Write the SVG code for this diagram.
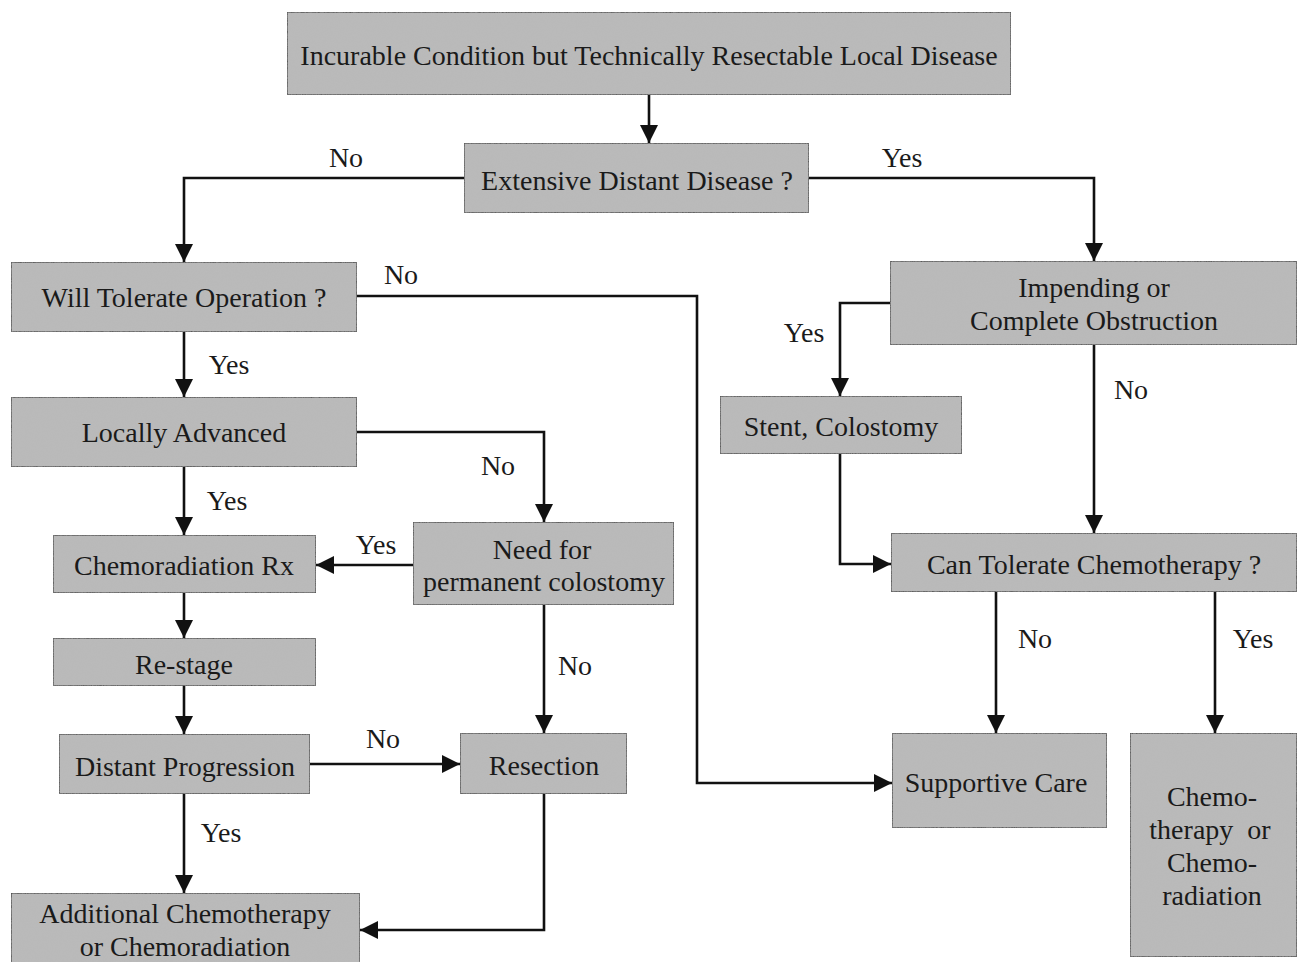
<svg xmlns="http://www.w3.org/2000/svg" width="1298" height="962" viewBox="0 0 1298 962">
<defs>
<marker id="ah" markerUnits="userSpaceOnUse" markerWidth="20" markerHeight="18" refX="18" refY="9" orient="auto">
<path d="M0,0 L18,9 L0,18 Z" fill="#111"/>
</marker>
<filter id="grain" x="0" y="0" width="100%" height="100%">
<feTurbulence type="fractalNoise" baseFrequency="0.8" numOctaves="2" seed="3" result="n"/>
<feColorMatrix in="n" type="matrix" values="0 0 0 0 0.5  0 0 0 0 0.5  0 0 0 0 0.5  0 0 0 0.5 0" result="g"/>
<feComposite in="g" in2="SourceGraphic" operator="in" result="gc"/>
<feMerge><feMergeNode in="SourceGraphic"/><feMergeNode in="gc"/></feMerge>
</filter>
</defs>
<style>
.box{fill:#b9b9b9;stroke:#333;stroke-width:1.6}
.t{font-family:"Liberation Serif","Times New Roman",serif;font-size:28px;fill:#1a1a1a;text-anchor:middle;white-space:pre}
.lbl{font-family:"Liberation Serif","Times New Roman",serif;font-size:28px;fill:#1a1a1a;text-anchor:middle}
.c{fill:none;stroke:#111;stroke-width:2.6;marker-end:url(#ah)}
</style>
<rect width="1298" height="962" fill="#fff"/>
<g id="connectors">
<path class="c" d="M649,95 V143"/>
<path class="c" d="M464,178 H184 V262"/>
<path class="c" d="M809,178 H1094 V261"/>
<path class="c" d="M357,296 H697 V783 H892"/>
<path class="c" d="M184,332 V397"/>
<path class="c" d="M357,432 H544 V522"/>
<path class="c" d="M184,467 V535"/>
<path class="c" d="M413,565 H316"/>
<path class="c" d="M184,593 V638"/>
<path class="c" d="M184,686 V734"/>
<path class="c" d="M544,605 V733"/>
<path class="c" d="M310,764 H460"/>
<path class="c" d="M184,794 V893"/>
<path class="c" d="M544,794 V930 H360"/>
<path class="c" d="M890,303 H840 V396"/>
<path class="c" d="M1094,345 V533"/>
<path class="c" d="M840,454 V564 H891"/>
<path class="c" d="M996,592 V733"/>
<path class="c" d="M1215,592 V733"/>
<text class="lbl" x="346" y="167">No</text>
<text class="lbl" x="902" y="167">Yes</text>
<text class="lbl" x="401" y="284">No</text>
<text class="lbl" x="229" y="374">Yes</text>
<text class="lbl" x="498" y="475">No</text>
<text class="lbl" x="227" y="510">Yes</text>
<text class="lbl" x="376" y="554">Yes</text>
<text class="lbl" x="575" y="675">No</text>
<text class="lbl" x="383" y="748">No</text>
<text class="lbl" x="221" y="842">Yes</text>
<text class="lbl" x="804" y="342">Yes</text>
<text class="lbl" x="1131" y="399">No</text>
<text class="lbl" x="1035" y="648">No</text>
<text class="lbl" x="1253" y="648">Yes</text>
</g>
<g id="n-top"><rect class="box" filter="url(#grain)" x="287" y="12" width="724" height="83"/><text class="t" x="649" y="65">Incurable Condition but Technically Resectable Local Disease</text></g>
<g id="n-extensive"><rect class="box" filter="url(#grain)" x="464" y="143" width="345" height="70"/><text class="t" x="637" y="190">Extensive Distant Disease ?</text></g>
<g id="n-tolerate-op"><rect class="box" filter="url(#grain)" x="11" y="262" width="346" height="70"/><text class="t" x="184" y="307">Will Tolerate Operation ?</text></g>
<g id="n-locally"><rect class="box" filter="url(#grain)" x="11" y="397" width="346" height="70"/><text class="t" x="184" y="442">Locally Advanced</text></g>
<g id="n-chemorad"><rect class="box" filter="url(#grain)" x="53" y="535" width="263" height="58"/><text class="t" x="184" y="575">Chemoradiation Rx</text></g>
<g id="n-need"><rect class="box" filter="url(#grain)" x="413" y="522" width="261" height="83"/><text class="t" x="542" y="559">Need for</text><text class="t" x="544" y="591">permanent colostomy</text></g>
<g id="n-restage"><rect class="box" filter="url(#grain)" x="53" y="638" width="263" height="48"/><text class="t" x="184" y="674">Re-stage</text></g>
<g id="n-distant"><rect class="box" filter="url(#grain)" x="59" y="734" width="251" height="60"/><text class="t" x="185" y="776">Distant Progression</text></g>
<g id="n-resection"><rect class="box" filter="url(#grain)" x="460" y="733" width="167" height="61"/><text class="t" x="544" y="775">Resection</text></g>
<g id="n-additional"><rect class="box" filter="url(#grain)" x="11" y="893" width="349" height="75"/><text class="t" x="185" y="923">Additional Chemotherapy</text><text class="t" x="185" y="956">or Chemoradiation</text></g>
<g id="n-obstruction"><rect class="box" filter="url(#grain)" x="890" y="261" width="407" height="84"/><text class="t" x="1094" y="297">Impending or</text><text class="t" x="1094" y="330">Complete Obstruction</text></g>
<g id="n-stent"><rect class="box" filter="url(#grain)" x="720" y="396" width="242" height="58"/><text class="t" x="841" y="436">Stent, Colostomy</text></g>
<g id="n-tolerate-chemo"><rect class="box" filter="url(#grain)" x="891" y="533" width="406" height="59"/><text class="t" x="1094" y="574">Can Tolerate Chemotherapy ?</text></g>
<g id="n-supportive"><rect class="box" filter="url(#grain)" x="892" y="733" width="215" height="95"/><text class="t" x="996" y="792">Supportive Care</text></g>
<g id="n-chemo-final"><rect class="box" filter="url(#grain)" x="1130" y="733" width="167" height="224"/><text class="t" x="1212" y="806">Chemo-</text><text class="t" x="1210" y="839">therapy  or</text><text class="t" x="1212" y="872">Chemo-</text><text class="t" x="1212" y="905">radiation</text></g>
</svg>
